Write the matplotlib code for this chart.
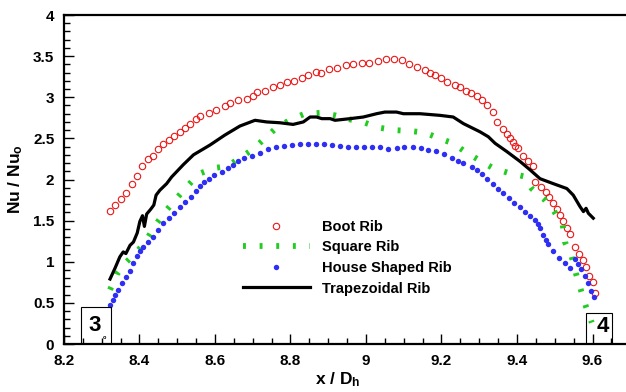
import numpy as np
import matplotlib.pyplot as plt
from matplotlib.patches import Rectangle
from matplotlib.ticker import MultipleLocator, FixedLocator, FormatStrFormatter

plt.rcParams['font.family'] = ['Liberation Sans', 'DejaVu Sans']
plt.rcParams['font.weight'] = 'bold'
plt.rcParams['mathtext.fontset'] = 'custom'
plt.rcParams['mathtext.rm'] = 'Liberation Sans:weight=bold'
plt.rcParams['mathtext.it'] = 'Liberation Sans:weight=bold'
plt.rcParams['mathtext.bf'] = 'Liberation Sans:weight=bold'
plt.rcParams['mathtext.default'] = 'bf'

# Boot Rib (open red circles)
boot_x = [8.322, 8.335, 8.350, 8.364, 8.379, 8.393, 8.407, 8.422, 8.435, 8.450,
          8.463, 8.478, 8.491, 8.507, 8.521, 8.534, 8.549, 8.560, 8.584, 8.604,
          8.626, 8.640, 8.662, 8.684, 8.700, 8.712, 8.732, 8.754, 8.772, 8.792,
          8.810, 8.831, 8.847, 8.867, 8.881, 8.903, 8.924, 8.946, 8.966, 8.989,
          9.009, 9.031, 9.052, 9.074, 9.095, 9.115, 9.136, 9.156, 9.170, 9.183,
          9.199, 9.214, 9.236, 9.249, 9.265, 9.277, 9.293, 9.306, 9.321, 9.336,
          9.348, 9.362, 9.374, 9.381, 9.389, 9.395, 9.403, 9.415, 9.430, 9.442,
          9.448, 9.463, 9.476, 9.486, 9.496, 9.505, 9.514, 9.523, 9.532, 9.540,
          9.554, 9.565, 9.574, 9.582, 9.592, 9.601, 9.607]
boot_y = [1.62, 1.69, 1.76, 1.84, 1.95, 2.04, 2.16, 2.25, 2.29, 2.37,
          2.43, 2.48, 2.53, 2.58, 2.63, 2.68, 2.74, 2.77, 2.81, 2.85,
          2.89, 2.93, 2.97, 2.98, 3.02, 3.06, 3.08, 3.12, 3.15, 3.18,
          3.20, 3.24, 3.27, 3.31, 3.30, 3.34, 3.36, 3.39, 3.41, 3.42,
          3.42, 3.44, 3.46, 3.47, 3.45, 3.40, 3.37, 3.33, 3.30, 3.27,
          3.23, 3.19, 3.15, 3.12, 3.08, 3.05, 3.01, 2.97, 2.91, 2.82,
          2.70, 2.62, 2.55, 2.50, 2.46, 2.41, 2.38, 2.29, 2.22, 2.16,
          1.97, 1.91, 1.85, 1.79, 1.71, 1.64, 1.57, 1.49, 1.41, 1.34,
          1.18, 1.10, 1.02, 0.94, 0.83, 0.75, 0.62]

# Square Rib (green dashes)
square_x = [8.322, 8.340, 8.366, 8.397, 8.423, 8.446, 8.472, 8.500, 8.529, 8.558,
            8.598, 8.631, 8.666, 8.701, 8.732, 8.763, 8.801, 8.838, 8.878, 8.918,
            8.958, 8.997, 9.035, 9.077, 9.117, 9.156, 9.194, 9.231, 9.265, 9.302,
            9.336, 9.377, 9.417, 9.439, 9.470, 9.496, 9.521, 9.527, 9.545, 9.556,
            9.569, 9.583, 9.598]
square_y = [0.66, 0.85, 1.00, 1.14, 1.30, 1.47, 1.63, 1.78, 1.93, 2.07,
            2.14, 2.16, 2.26, 2.37, 2.50, 2.63, 2.73, 2.80, 2.81, 2.78,
            2.73, 2.69, 2.63, 2.60, 2.59, 2.57, 2.50, 2.44, 2.33, 2.23,
            2.14, 2.08, 2.04, 1.89, 1.77, 1.63, 1.45, 1.24, 1.06, 0.86,
            0.66, 0.45, 0.26]

# House Shaped Rib (blue dots)
house_x = [8.322, 8.329, 8.335, 8.344, 8.353, 8.364, 8.375, 8.384, 8.393, 8.401,
           8.410, 8.422, 8.437, 8.450, 8.463, 8.478, 8.491, 8.507, 8.521, 8.536,
           8.550, 8.560, 8.571, 8.584, 8.598, 8.619, 8.634, 8.648, 8.662, 8.677,
           8.697, 8.719, 8.740, 8.762, 8.783, 8.803, 8.825, 8.846, 8.868, 8.889,
           8.910, 8.931, 8.953, 8.974, 8.996, 9.017, 9.037, 9.059, 9.081, 9.101,
           9.124, 9.145, 9.165, 9.185, 9.207, 9.229, 9.244, 9.258, 9.280, 9.293,
           9.306, 9.321, 9.336, 9.350, 9.364, 9.379, 9.392, 9.408, 9.421, 9.434,
           9.448, 9.455, 9.461, 9.470, 9.477, 9.483, 9.496, 9.512, 9.527, 9.540,
           9.554, 9.562, 9.569, 9.580, 9.589, 9.595, 9.604]
house_y = [0.47, 0.54, 0.60, 0.66, 0.74, 0.82, 0.89, 0.98, 1.07, 1.13,
           1.18, 1.24, 1.30, 1.39, 1.47, 1.53, 1.59, 1.67, 1.73, 1.79,
           1.86, 1.92, 1.97, 2.01, 2.05, 2.09, 2.14, 2.18, 2.22, 2.26,
           2.29, 2.32, 2.37, 2.39, 2.41, 2.42, 2.43, 2.43, 2.43, 2.43,
           2.42, 2.41, 2.40, 2.39, 2.39, 2.39, 2.39, 2.37, 2.38, 2.39,
           2.39, 2.38, 2.36, 2.35, 2.31, 2.26, 2.22, 2.20, 2.15, 2.11,
           2.07, 2.01, 1.95, 1.89, 1.83, 1.77, 1.71, 1.66, 1.61, 1.56,
           1.51, 1.46, 1.41, 1.33, 1.27, 1.22, 1.13, 1.05, 0.99, 0.93,
           1.03, 0.97, 0.91, 0.83, 0.74, 0.65, 0.57]

# Trapezoidal Rib (black line)
trap_x = [8.322, 8.335, 8.348, 8.357, 8.364, 8.375, 8.384, 8.394, 8.401, 8.408,
          8.413, 8.419, 8.430, 8.438, 8.444, 8.454, 8.472, 8.485, 8.516, 8.543,
          8.587, 8.626, 8.666, 8.706, 8.737, 8.772, 8.807, 8.834, 8.852, 8.869,
          8.883, 8.905, 8.918, 8.958, 8.993, 9.028, 9.050, 9.081, 9.099, 9.143,
          9.196, 9.231, 9.258, 9.302, 9.324, 9.342, 9.373, 9.408, 9.434, 9.461,
          9.496, 9.532, 9.549, 9.567, 9.576, 9.583, 9.589, 9.602]
trap_y = [0.79, 0.92, 1.06, 1.12, 1.10, 1.20, 1.24, 1.35, 1.49, 1.56,
          1.43, 1.58, 1.64, 1.69, 1.81, 1.87, 1.95, 2.03, 2.18, 2.30,
          2.42, 2.54, 2.65, 2.72, 2.70, 2.69, 2.67, 2.70, 2.76, 2.76,
          2.74, 2.74, 2.72, 2.74, 2.76, 2.80, 2.82, 2.82, 2.80, 2.80,
          2.78, 2.76, 2.68, 2.58, 2.52, 2.44, 2.34, 2.22, 2.12, 2.01,
          1.95, 1.89, 1.81, 1.67, 1.61, 1.65, 1.59, 1.53]

x_ticks = [8.2, 8.4, 8.6, 8.8, 9.0, 9.2, 9.4, 9.6]

fig = plt.figure(figsize=(6.26, 3.92), dpi=100)
ax = fig.add_axes([0.1022, 0.1224, 0.9649, 0.8393])

ax.plot(boot_x, boot_y, linestyle='none', marker='o', markersize=4.6,
        markerfacecolor='none', markeredgecolor='#ee1515', markeredgewidth=0.8,
        label='Boot Rib')
ax.plot(square_x, square_y, color='#22cc22', linewidth=4.2,
        dashes=(0.5, 2.35), dash_capstyle='butt', label='Square Rib')
ax.plot(house_x, house_y, linestyle='none', marker='o', markersize=3.9,
        markerfacecolor='#2e2ef5', markeredgecolor='#2e2ef5', markeredgewidth=0,
        label='House Shaped Rib')
ax.plot(trap_x, trap_y, color='black', linewidth=2.3, label='Trapezoidal Rib')

ax.set_xlim(8.2, 9.8)
ax.set_ylim(0, 4)
ax.xaxis.set_major_locator(FixedLocator(x_ticks))
ax.xaxis.set_minor_locator(MultipleLocator(0.05))
ax.yaxis.set_major_locator(MultipleLocator(0.5))
ax.yaxis.set_minor_locator(MultipleLocator(0.1))
ax.xaxis.set_major_formatter(FormatStrFormatter('%g'))
ax.yaxis.set_major_formatter(FormatStrFormatter('%g'))
ax.tick_params(which='both', direction='in', top=False, right=False,
               labelsize=11, width=1)
ax.tick_params(which='major', length=7, pad=7)
ax.tick_params(which='minor', length=4)
for lab in ax.get_xticklabels() + ax.get_yticklabels():
    lab.set_fontweight('bold')
for s in ax.spines.values():
    s.set_linewidth(1.6)

ax.set_xlabel('x / D$_\\mathbf{h}$', fontsize=12.5, fontweight='bold')
ax.xaxis.set_label_coords(0.4536, -0.081)
ax.set_ylabel('Nu / Nu$_\\mathbf{o}$', fontsize=12.5, fontweight='bold',
              labelpad=6)

# boxed labels 3 and 4
ax.add_patch(Rectangle((8.244, 0), 0.080, 0.45, fill=False, edgecolor='black',
                       linewidth=0.8, zorder=5))
ax.text(8.282, 0.23, '3', ha='center', va='center', fontsize=16,
        fontweight='bold')
ax.text(8.307, 0.08, 'o', ha='center', va='center', fontsize=4)
ax.add_patch(Rectangle((9.582, 0), 0.070, 0.38, fill=False, edgecolor='black',
                       linewidth=0.8, zorder=5))
ax.text(9.628, 0.21, '4', ha='center', va='center', fontsize=16,
        fontweight='bold')

ax.legend(loc='upper left', bbox_to_anchor=(0.388, 0.439),
          bbox_transform=fig.transFigure, frameon=False,
          prop={'size': 10.5, 'weight': 'bold'},
          numpoints=1, handlelength=4.6, handletextpad=0.8, labelspacing=0.45,
          borderpad=0, borderaxespad=0)

fig.savefig('out.png', dpi=100)
